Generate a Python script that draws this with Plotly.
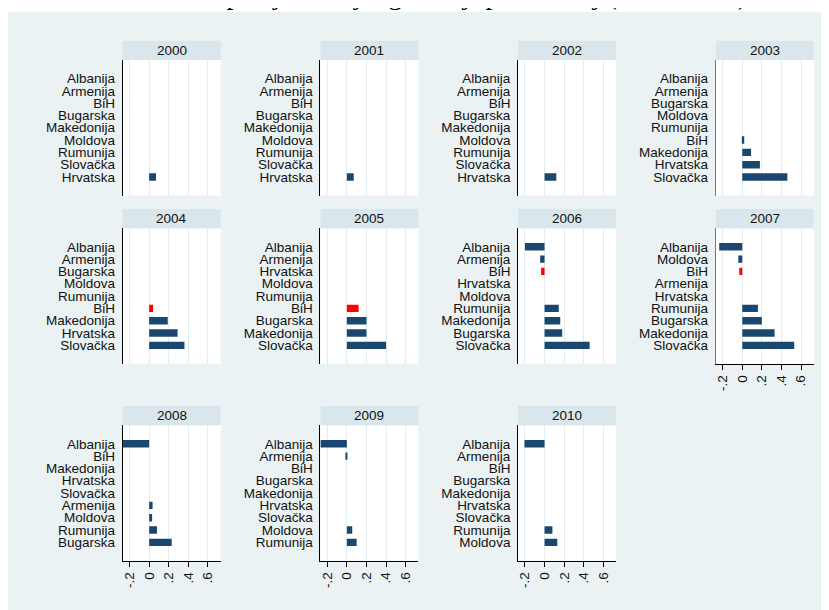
import plotly.graph_objects as go

W, H = 829, 610
OFF = 8  # the page puts the figure 8px in from the top-left corner

years = [2000, 2001, 2002, 2003, 2004, 2005, 2006, 2007, 2008, 2009, 2010]

# countries top to bottom in each panel, values (None = no bar)
c2000 = ["Albanija", "Armenija", "BiH", "Bugarska", "Makedonija", "Moldova", "Rumunija", "Slovačka", "Hrvatska"]
v2000 = [None, None, None, None, None, None, None, None, 0.07]
c2001 = ["Albanija", "Armenija", "BiH", "Bugarska", "Makedonija", "Moldova", "Rumunija", "Slovačka", "Hrvatska"]
v2001 = [None, None, None, None, None, None, None, None, 0.07]
c2002 = ["Albanija", "Armenija", "BiH", "Bugarska", "Makedonija", "Moldova", "Rumunija", "Slovačka", "Hrvatska"]
v2002 = [None, None, None, None, None, None, None, None, 0.12]
c2003 = ["Albanija", "Armenija", "Bugarska", "Moldova", "Rumunija", "BiH", "Makedonija", "Hrvatska", "Slovačka"]
v2003 = [None, None, None, None, None, 0.02, 0.09, 0.18, 0.46]
c2004 = ["Albanija", "Armenija", "Bugarska", "Moldova", "Rumunija", "BiH", "Makedonija", "Hrvatska", "Slovačka"]
v2004 = [None, None, None, None, None, 0.04, 0.19, 0.29, 0.36]
c2005 = ["Albanija", "Armenija", "Hrvatska", "Moldova", "Rumunija", "BiH", "Bugarska", "Makedonija", "Slovačka"]
v2005 = [None, None, None, None, None, 0.12, 0.20, 0.20, 0.40]
c2006 = ["Albanija", "Armenija", "BiH", "Hrvatska", "Moldova", "Rumunija", "Makedonija", "Bugarska", "Slovačka"]
v2006 = [-0.20, -0.045, -0.035, None, None, 0.145, 0.16, 0.18, 0.46]
c2007 = ["Albanija", "Moldova", "BiH", "Armenija", "Hrvatska", "Rumunija", "Bugarska", "Makedonija", "Slovačka"]
v2007 = [-0.235, -0.04, -0.03, None, None, 0.16, 0.20, 0.33, 0.53]
c2008 = ["Albanija", "BiH", "Makedonija", "Hrvatska", "Slovačka", "Armenija", "Moldova", "Rumunija", "Bugarska"]
v2008 = [-0.27, None, None, None, None, 0.035, 0.03, 0.08, 0.23]
c2009 = ["Albanija", "Armenija", "BiH", "Bugarska", "Makedonija", "Hrvatska", "Slovačka", "Moldova", "Rumunija"]
v2009 = [-0.27, -0.015, None, None, None, None, None, 0.055, 0.10]
c2010 = ["Albanija", "Armenija", "BiH", "Bugarska", "Makedonija", "Hrvatska", "Slovačka", "Rumunija", "Moldova"]
v2010 = [-0.205, None, None, None, None, None, None, 0.08, 0.13]

cats = [c2000, c2001, c2002, c2003, c2004, c2005, c2006, c2007, c2008, c2009, c2010]
vals = [v2000, v2001, v2002, v2003, v2004, v2005, v2006, v2007, v2008, v2009, v2010]

red_years = [2004, 2005, 2006, 2007]
tick_vals = [-0.2, 0, 0.2, 0.4, 0.6]
tick_text = ["-.2", "0", ".2", ".4", ".6"]
x_range = [-0.27, 0.73]

navy = "#1a476f"
bg = "#eaf2f3"
strip = "#d9e6eb"
font = "Liberation Sans, Arial, sans-serif"

# panel geometry in page pixels
col_x0 = [122.7, 320.4, 518.1, 715.8]
pw = 98
strip_top = [40.7, 209, 406]
sh = 19.3
ph = 135.5
bottom_axis = [2007, 2008, 2009, 2010]


def px(x):
    return (x - OFF) / W


def py(y):
    return 1 - (y - OFF) / H


fig = go.Figure()
shapes = []
annotations = []

for i, yr in enumerate(years):
    r, c = divmod(i, 4)
    n = "" if i == 0 else str(i + 1)
    x0 = col_x0[c]
    x1 = x0 + pw
    t0 = strip_top[r]
    p0 = t0 + sh
    p1 = p0 + ph
    colors = ["red" if (k == "BiH" and yr in red_years) else navy for k in cats[i]]
    fig.add_trace(go.Bar(x=vals[i], y=cats[i], orientation="h", width=0.6,
                         marker=dict(color=colors, line=dict(width=0)),
                         xaxis="x" + n, yaxis="y" + n, showlegend=False))
    show_x = yr in bottom_axis
    fig.layout["xaxis" + n] = dict(
        domain=[px(x0), px(x1)], anchor="y" + n, range=x_range,
        tickmode="array", tickvals=tick_vals, ticktext=tick_text, showticklabels=show_x,
        ticks="outside" if show_x else "", ticklen=5, tickcolor="#000",
        tickangle=-90, tickfont=dict(family=font, size=13.5, color="#111"),
        showline=show_x, linecolor="#000", linewidth=1,
        showgrid=True, gridcolor="#e3ecef", gridwidth=1, zeroline=False)
    lc = "#777" if c == 3 else "#000"
    fig.layout["yaxis" + n] = dict(
        domain=[py(p1), py(p0)], anchor="x" + n,
        type="category", categoryorder="array", categoryarray=cats[i],
        tickmode="array", tickvals=cats[i], ticktext=cats[i],
        range=[len(cats[i]) - 1 + 1.5, -1.5],
        showline=True, linecolor=lc, linewidth=1, ticks="",
        ticklabelstandoff=4, showgrid=False, zeroline=False,
        tickfont=dict(family=font, size=13.5, color="#111"))
    shapes.append(dict(type="rect", xref="paper", yref="paper", layer="below",
                       x0=px(x0), x1=px(x1), y0=py(p0), y1=py(t0),
                       fillcolor=strip, line=dict(width=0)))
    annotations.append(dict(text=str(yr), xref="paper", yref="paper",
                            x=px((x0 + x1) / 2), y=py(t0 + sh / 2),
                            showarrow=False, xanchor="center", yanchor="middle",
                            font=dict(family=font, size=13.5, color="#111")))

# white page strip above the graph region
shapes.append(dict(type="rect", xref="paper", yref="paper", layer="below",
                   x0=0, x1=1, y0=py(12), y1=1, fillcolor="white", line=dict(width=0)))

# caption line of the page, mostly cut off at the top
annotations.append(dict(text="Izvozna specijalizacija, godišnji pokazatelj (2000-2010),",
                        xref="paper", yref="paper", x=px(118), y=py(12),
                        xanchor="left", yanchor="bottom", showarrow=False,
                        font=dict(family="Liberation Serif, Times New Roman, serif",
                                  size=28, color="#000")))

fig.update_layout(width=W, height=H, margin=dict(l=0, r=0, t=0, b=0),
                  paper_bgcolor=bg, plot_bgcolor="white",
                  shapes=shapes, annotations=annotations, bargap=0.4)

fig.write_html("out.html")
